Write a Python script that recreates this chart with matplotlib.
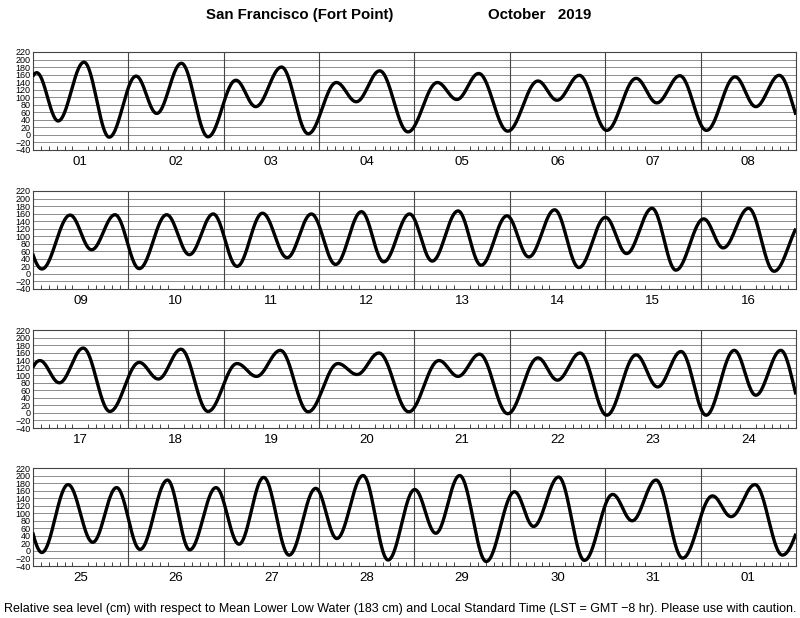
'''
Tide curve for San Francisco (Fort Point), October 2019.
'''
import numpy as np
import matplotlib
matplotlib.use('Agg')
import matplotlib.pyplot as plt

plt.rcParams['font.family'] = ['Liberation Sans', 'DejaVu Sans']

# high / low water: hours from the start of each panel, cm
p1_hours = [-5.5, 1.0, 6.4, 12.9, 19.25, 26.0, 31.2, 37.4, 44.1, 51.1, 56.1, 62.6, 69.3,
            76.4, 81.4, 87.3, 94.4, 101.8, 106.7, 112.2, 119.5, 127.1, 131.9, 137.5,
            144.4, 151.8, 157.0, 162.8, 169.5, 176.7, 181.9, 187.8]
p1_cm = [-8, 165, 37, 193, -6, 156, 57, 190, -5, 145, 75, 180, 3,
         139, 88, 170, 8, 139, 94, 163, 10, 143, 92, 158,
         12, 150, 85, 157, 12, 154, 75, 158]

p2_hours = [2.3, 9.4, 14.8, 20.7, 26.8, 33.7, 39.4, 45.4, 51.4, 57.8, 64.0, 70.1, 76.2,
            82.7, 88.3, 94.8, 100.5, 107.0, 112.8, 119.3, 124.8, 131.3, 137.4, 144.1,
            149.4, 155.8, 161.8, 168.8, 173.7, 180.1, 186.5]
p2_cm = [13, 156, 64, 157, 14, 157, 51, 159, 20, 161, 43, 159, 25,
         165, 32, 159, 34, 167, 23, 154, 45, 170, 17, 150,
         54, 174, 10, 146, 69, 174, 7]

p3_hours = [1.8, 6.7, 12.7, 19.4, 26.8, 31.6, 37.3, 44.1, 51.4, 56.3, 62.3, 69.3, 76.8,
            81.6, 87.1, 94.6, 102.2, 107.0, 112.4, 119.5, 127.1, 132.0, 137.7, 144.4,
            151.8, 157.2, 163.1, 169.4, 176.5, 181.9, 188.2]
p3_cm = [139, 80, 172, 4, 134, 90, 169, 4, 131, 97, 166, 3, 131,
         102, 159, 3, 139, 97, 156, -2, 146, 87, 159, -6,
         154, 69, 163, -6, 166, 47, 166]

p4_hours = [2.3, 8.9, 15.1, 21.1, 27.0, 33.9, 39.5, 46.1, 51.9, 58.1, 64.5, 71.2, 76.5,
            83.1, 89.4, 96.1, 101.4, 107.4, 114.1, 121.2, 126.0, 132.3, 138.8, 145.9,
            150.8, 156.8, 163.5, 171.0, 175.7, 181.7, 188.6, 197.0]
p4_cm = [-4, 176, 23, 168, 4, 188, 3, 168, 18, 195, -11, 166, 33,
         200, -24, 163, 47, 200, -28, 157, 65, 196, -25, 150,
         80, 188, -19, 146, 91, 176, -11, 150]

day_labels = [['01', '02', '03', '04', '05', '06', '07', '08'],
              ['09', '10', '11', '12', '13', '14', '15', '16'],
              ['17', '18', '19', '20', '21', '22', '23', '24'],
              ['25', '26', '27', '28', '29', '30', '31', '01']]

# one continuous series for the month
panel_hours = [p1_hours, p2_hours, p3_hours, p4_hours]
panel_cm = [p1_cm, p2_cm, p3_cm, p4_cm]
ext_t = np.concatenate([np.array(h) + 192 * i for i, h in enumerate(panel_hours)])
ext_h = np.concatenate([np.array(c, dtype=float) for c in panel_cm])


def tide(t):
    # cosine shape between consecutive high and low waters
    k = np.clip(np.searchsorted(ext_t, t) - 1, 0, len(ext_t) - 2)
    t0, t1 = ext_t[k], ext_t[k + 1]
    h0, h1 = ext_h[k], ext_h[k + 1]
    s = (t - t0) / (t1 - t0)
    return h0 + (h1 - h0) * (1 - np.cos(np.pi * s)) / 2


fig = plt.figure(figsize=(8, 6.18), dpi=100)

bottoms = [0.7573, 0.5324, 0.3074, 0.0841]
yticks = np.arange(-40, 221, 20)

for i in range(4):
    ax = fig.add_axes([0.0409, bottoms[i], 0.954, 0.1586])
    t = np.linspace(0, 192, 1500)
    ax.plot(t, tide(t + 192 * i), color='black', lw=2.4, zorder=3,
            solid_capstyle='butt')

    for y in yticks[1:-1]:
        ax.axhline(y, color='#8c8c8c', lw=0.7, zorder=1)
    for d in range(1, 8):
        ax.axvline(24 * d, color='#444444', lw=0.8, zorder=2)

    ax.set_xlim(0, 192)
    ax.set_ylim(-40, 220)
    ax.set_yticks(yticks)
    ax.set_yticklabels([str(v).replace('-', '\u2212') for v in yticks], fontsize=6.5)
    ax.tick_params(axis='y', length=0, pad=1.5)

    ax.set_xticks(np.arange(12, 192, 24))
    ax.set_xticklabels(day_labels[i], fontsize=9.5)
    ax.set_xticks(np.arange(2, 192, 2), minor=True)
    ax.tick_params(axis='x', which='major', length=0, pad=4)
    ax.tick_params(axis='x', which='minor', direction='in', length=3, width=0.7,
                   color='#444444')

    for sp in ax.spines.values():
        sp.set_color('#444444')
        sp.set_linewidth(0.8)

fig.text(0.374, 0.975, 'San Francisco (Fort Point)', ha='center', va='center',
         fontsize=10.8, fontweight='bold')
fig.text(0.674, 0.975, 'October   2019', ha='center', va='center',
         fontsize=10.8, fontweight='bold')
fig.text(0.5, 0.015, 'Relative sea level (cm) with respect to Mean Lower Low Water '
         '(183 cm) and Local Standard Time (LST = GMT \u22128 hr). Please use with caution.',
         ha='center', va='center', fontsize=9.0)

fig.savefig('out.png', dpi=100)
